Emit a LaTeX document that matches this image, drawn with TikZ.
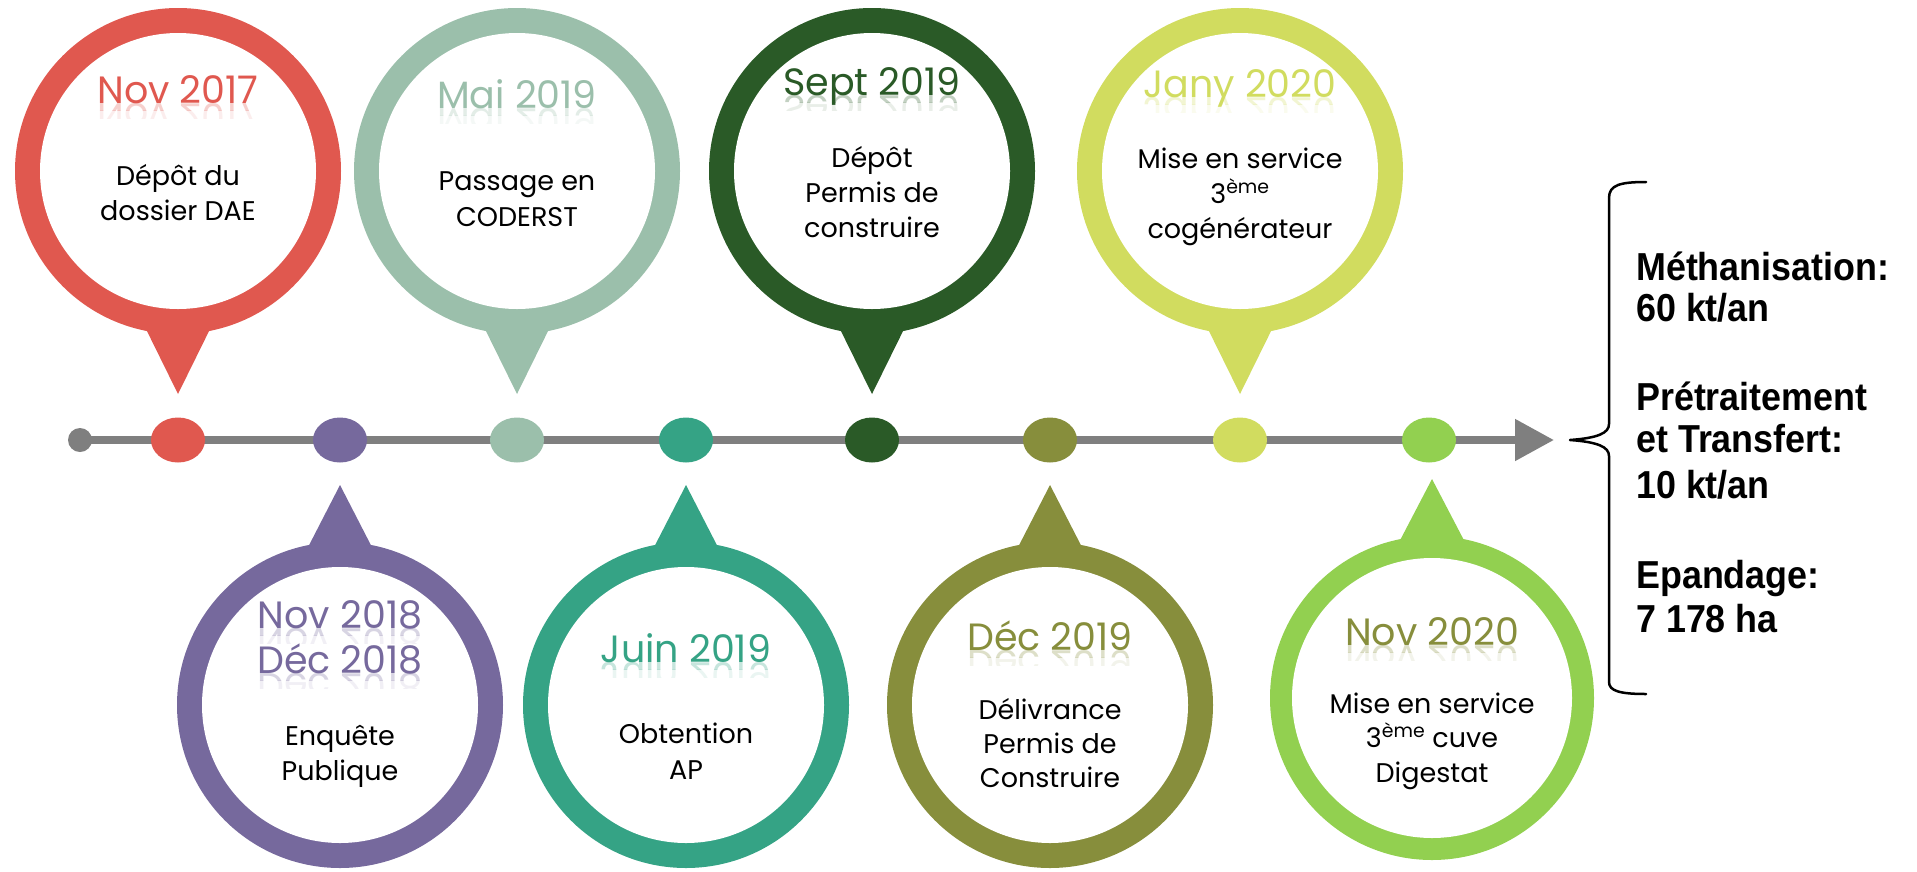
\documentclass[tikz,border=0pt]{standalone}
\usepackage{fontspec}
\setmainfont{Poppins}
\newfontfamily\summaryfont{Liberation Sans}
\usetikzlibrary{arrows.meta}

\definecolor{pinred}{HTML}{E0584F}
\definecolor{pinpurple}{HTML}{76699D}
\definecolor{pinsage}{HTML}{9BBFAB}
\definecolor{pinteal}{HTML}{35A385}
\definecolor{pindark}{HTML}{2A5A27}
\definecolor{pinolive}{HTML}{878E3C}
\definecolor{pinlime}{HTML}{D1DC5F}
\definecolor{pingreen}{HTML}{92D050}
\definecolor{axisgrey}{HTML}{7F7F7F}

% pin: centre x, centre y, tail base y, tail tip y, colour, outer radius, inner radius
\newcommand\pin[7]{%
  \fill[#5] ({#1-36},#3) -- (#1,#4) -- ({#1+36},#3) -- cycle;
  \fill[#5] (#1,#2) circle[radius=#6pt];
  \fill[white] (#1,#2) circle[radius=#7pt];}

% date label with a faint mirrored reflection under its baseline
\newcommand\datelbl[5]{%
  \node[datefont, text=#4, anchor=base] (#1) at (#2,#3) {#5};
  \begin{scope}[shift={(#2,#3)}]
    \clip (-150,0) rectangle (150,7);
    \node[datefont, text=#4, anchor=base, yscale=-1, opacity=.28] at (0,0) {#5};
  \end{scope}
  \begin{scope}[shift={(#2,#3)}]
    \clip (-150,7) rectangle (150,15);
    \node[datefont, text=#4, anchor=base, yscale=-1, opacity=.1] at (0,0) {#5};
  \end{scope}}

\newcommand\eme{\textsuperscript{ème}}

\begin{document}
\begin{tikzpicture}[x=1pt,y=-1pt,
  datefont/.style={font=\fontsize{38}{42}\selectfont, inner sep=0pt},
  bodyfont/.style={font=\fontsize{27}{33}\selectfont, inner sep=0pt, text=black, anchor=base},
  sumfont/.style={font=\summaryfont\bfseries\fontsize{39}{44}\selectfont, inner sep=0pt, anchor=base west, xscale=0.92},
  dotmark/.style={x radius=27pt, y radius=22.5pt}]
\useasboundingbox (0,0) rectangle (1917,871);

% timeline axis
\node[circle, fill=axisgrey, minimum size=24pt, inner sep=0pt] (start) at (80,440) {};
\coordinate (end) at (1554,440);
\draw[axisgrey, line width=8pt, -{Triangle[length=39pt,width=40pt]}] (start.center) -- (end);

% milestone dots
\fill[pinred]    (178,440)  ellipse[dotmark];
\fill[pinpurple] (340,440)  ellipse[dotmark];
\fill[pinsage]   (517,440)  ellipse[dotmark];
\fill[pinteal]   (686,440)  ellipse[dotmark];
\fill[pindark]   (872,440)  ellipse[dotmark];
\fill[pinolive]  (1050,440) ellipse[dotmark];
\fill[pinlime]   (1240,440) ellipse[dotmark];
\fill[pingreen]  (1429,440) ellipse[dotmark];

% pins above the axis
\pin{178}{171}{321}{394}{pinred}{163}{138}
\pin{517}{171}{321}{394}{pinsage}{163}{138}
\pin{872}{171}{321}{394}{pindark}{163}{138}
\pin{1240}{171}{321}{394}{pinlime}{163}{138}
% pins below the axis
\pin{340}{705}{555}{485}{pinpurple}{163}{138}
\pin{686}{705}{555}{485}{pinteal}{163}{138}
\pin{1050}{705}{555}{485}{pinolive}{163}{138}
\pin{1432}{698}{548}{479}{pingreen}{162}{140}

% Nov 2017
\datelbl{dA}{178}{103}{pinred}{Nov 2017}
\node[bodyfont] (tA1) at (178,185) {Dépôt du};
\node[bodyfont] (tA2) at (178,220) {dossier DAE};
% Nov/Dec 2018
\datelbl{dB}{340}{628}{pinpurple}{Nov 2018}
\datelbl{dBb}{340}{673}{pinpurple}{Déc 2018}
\node[bodyfont] (tB1) at (340,745) {Enquête};
\node[bodyfont] (tB2) at (340,780) {Publique};
% Mai 2019
\datelbl{dC}{517}{108}{pinsage}{Mai 2019}
\node[bodyfont] (tC1) at (517,190) {Passage en};
\node[bodyfont] (tC2) at (517,226) {CODERST};
% Juin 2019
\datelbl{dD}{686}{662}{pinteal}{Juin 2019}
\node[bodyfont] (tD1) at (686,743) {Obtention};
\node[bodyfont] (tD2) at (686,779) {AP};
% Sept 2019
\datelbl{dE}{872}{95}{pindark}{Sept 2019}
\node[bodyfont] (tE1) at (872,167) {Dépôt};
\node[bodyfont] (tE2) at (872,202) {Permis de};
\node[bodyfont] (tE3) at (872,237) {construire};
% Dec 2019
\datelbl{dF}{1050}{650}{pinolive}{Déc 2019}
\node[bodyfont] (tF1) at (1050,719) {Délivrance};
\node[bodyfont] (tF2) at (1050,753) {Permis de};
\node[bodyfont] (tF3) at (1050,787) {Construire};
% Jan 2020
\datelbl{dG}{1240}{97}{pinlime}{Jany 2020}
\node[bodyfont] (tG1) at (1240,168) {Mise en service};
\node[bodyfont] (tG2) at (1240,203) {3\eme};
\node[bodyfont] (tG3) at (1240,238) {cogénérateur};
% Nov 2020
\datelbl{dH}{1432}{645}{pinolive}{Nov 2020}
\node[bodyfont] (tH1) at (1432,713) {Mise en service};
\node[bodyfont] (tH2) at (1432,747) {3\eme{} cuve};
\node[bodyfont] (tH3) at (1432,782) {Digestat};

% summary brace
\coordinate (btop) at (1646,182);
\coordinate (btip) at (1570,440);
\coordinate (bbot) at (1646,694);
\draw[black, line width=2.5pt, line cap=round, line join=round]
  (btop) .. controls (1620,182) and (1609,185) .. (1609,198)
  -- (1609,424) .. controls (1609,433) and (1598,438) .. (btip)
  .. controls (1598,442) and (1609,447) .. (1609,456)
  -- (1609,682) .. controls (1609,691) and (1620,694) .. (bbot);

% summary figures
\node[sumfont] (s1) at (1636,280) {Méthanisation:};
\node[sumfont] (s2) at (1636,321) {60 kt/an};
\node[sumfont] (s3) at (1636,410) {Prétraitement};
\node[sumfont] (s4) at (1636,452) {et Transfert:};
\node[sumfont] (s5) at (1636,498) {10 kt/an};
\node[sumfont] (s6) at (1636,588) {Epandage:};
\node[sumfont] (s7) at (1636,632) {7 178 ha};
\end{tikzpicture}
\end{document}
